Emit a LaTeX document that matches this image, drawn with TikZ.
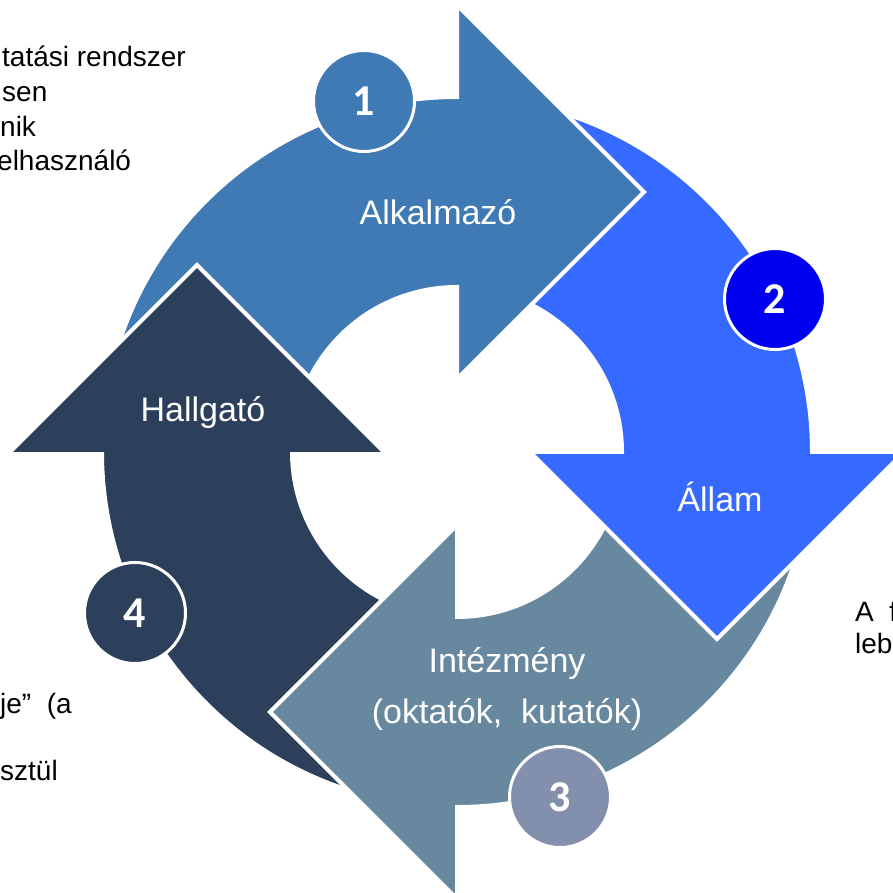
\documentclass[tikz,border=0pt]{standalone}
\usepackage{fontspec}
\setmainfont{Liberation Sans}
\newfontfamily\numfont{Carlito}
\usepackage{tikz}
\usetikzlibrary{positioning,calc}
\definecolor{alkalmazo}{RGB}{63,122,181}
\definecolor{allam}{RGB}{54,105,255}
\definecolor{intezmeny}{RGB}{103,136,158}
\definecolor{hallgato}{RGB}{44,64,92}
\definecolor{kor2}{RGB}{0,0,240}
\definecolor{kor3}{RGB}{130,144,174}
\tikzset{ring/.style={draw=white, line width=4pt, line join=miter},
         num/.style={circle, draw=white, line width=3pt, minimum size=101pt,
           inner sep=0pt, text=white, font=\numfont\bfseries\fontsize{44}{44}\selectfont},
         lbl/.style={text=white, inner sep=0pt, anchor=base,
           font=\fontsize{34}{40}\selectfont},
         frag/.style={inner sep=0pt, anchor=base west,
           font=\fontsize{28}{34}\selectfont}}

\begin{document}
\begin{tikzpicture}[x=1pt,y=1pt]
  \useasboundingbox (0,0) rectangle (893,892);
  \clip (0,0) rectangle (893,892);
  \coordinate (c) at (457,440);
  % the four ring arrows, each rotated from the top one
  \foreach \forg/\szin in {90/hallgato,180/intezmeny,270/allam,0/alkalmazo}{
    \begin{scope}[shift={(c)},rotate=\forg]
      \filldraw[ring,fill=\szin] (175:355) arc[start angle=175,end angle=90,radius=355]
        -- (0,447) -- (187,260) -- (0,73) -- (0,165)
        arc[start angle=90,end angle=175,radius=165] -- cycle;
    \end{scope}}
  % head of the last arrow lies over the tail of the first
  \begin{scope}[shift={(c)},rotate=90]
    \fill[hallgato] (0,447) -- (187,260) -- (0,73) -- cycle;
    \draw[white,line width=4pt,line join=miter] (0,447) -- (187,260) -- (0,73);
  \end{scope}
  \node[lbl] (alk) at (438,667) {Alkalmazó};
  \node[lbl] (all) at (720,380) {Állam};
  \node[lbl] (int) at (507,220) {Intézmény};
  \node[lbl] (okt) at (507,169) {(oktatók,~ kutatók)};
  \node[lbl] (hal) at (203,470) {Hallgató};
  \node[num,fill=alkalmazo] (n1) at (364,791) {1};
  \node[num,fill=kor2] (n2) at (775,593) {2};
  \node[num,fill=kor3] (n3) at (560,95) {3};
  \node[num,fill=hallgato] (n4) at (135,279) {4};
  % cut text of the page around the figure
  \node[frag] (t1) at (2,825) {tatási rendszer};
  \node[frag] (t2) at (2,790) {sen};
  \node[frag] (t3) at (0,755) {nik};
  \node[frag] (t4) at (-3,721) {elhasználó};
  \node[frag] (b1) at (0,179) {je”~ (a};
  \node[frag] (b2) at (0,112) {sztül};
  \node[frag] (r1) at (855,271) {A~ f};
  \node[frag] (r2) at (855,239) {leb};
\end{tikzpicture}
\end{document}
